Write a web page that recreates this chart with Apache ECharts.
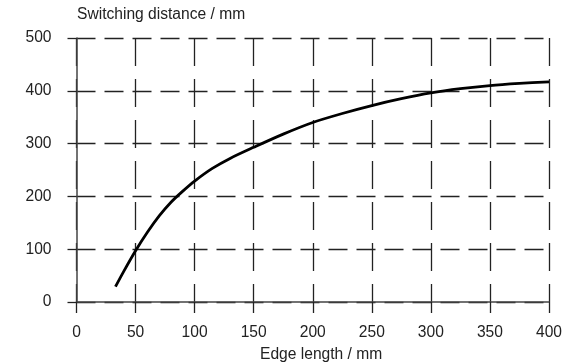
<!DOCTYPE html>
<html>
<head>
<meta charset="utf-8">
<script src="https://cdn.jsdelivr.net/npm/echarts@6/dist/echarts.min.js"></script>
<style>html,body{margin:0;padding:0;background:#fff}#c{width:569px;height:364px}</style>
</head>
<body>
<div id="c"></div>
<script>
const edgeLength = [33, 40, 50, 60, 70, 80, 90, 100, 115, 130, 150, 175, 200, 225, 250, 275, 300, 325, 350, 375, 400];
const switchingDistance = [29, 58, 97, 132, 163, 189, 210, 229, 253, 272, 293, 318, 340, 357, 372, 385, 396, 404, 410, 414, 417];
const xTicks = [0, 50, 100, 150, 200, 250, 300, 350, 400];
const yTicks = [0, 100, 200, 300, 400, 500];
const xTitle = 'Edge length / mm';
const yTitle = 'Switching distance / mm';

const chart = echarts.init(document.getElementById('c'), null, {renderer: 'canvas'});
const font = 'Liberation Sans, Arial, Helvetica, sans-serif';
const fs = 15.6;
chart.setOption({
  animation: false,
  backgroundColor: '#fff',
  grid: {left: 76.5, right: 20, top: 38, bottom: 62, containLabel: false},
  xAxis: {
    type: 'value', min: xTicks[0], max: xTicks[xTicks.length - 1], interval: 50,
    axisLine: {show: true, onZero: false, lineStyle: {color: '#444', width: 1.5}},
    axisTick: {show: true, inside: false, length: 11, lineStyle: {color: '#222', width: 1.3}},
    axisLabel: {margin: 23, fontSize: fs, color: '#222', fontFamily: font},
    splitLine: {show: true, lineStyle: {color: '#222', width: 1.3, type: [28, 13]}}
  },
  yAxis: {
    type: 'value', min: yTicks[0], max: yTicks[yTicks.length - 1], interval: 100,
    axisLine: {show: true, onZero: false, lineStyle: {color: '#444', width: 1.5}},
    axisTick: {show: true, inside: false, length: 9, lineStyle: {color: '#222', width: 1.3}},
    axisLabel: {margin: 25, fontSize: fs, color: '#222', fontFamily: font},
    splitLine: {show: true, lineStyle: {color: '#222', width: 1.3, type: [19, 9]}}
  },
  graphic: [
    {type: 'text', x: 77, y: 15, style: {text: yTitle, fontSize: fs, fill: '#222', fontFamily: font, verticalAlign: 'middle'}},
    {type: 'text', x: 260, y: 354.5, style: {text: xTitle, fontSize: fs, fill: '#222', fontFamily: font, verticalAlign: 'middle'}}
  ],
  series: [{
    type: 'line', smooth: 0.3, showSymbol: false,
    data: edgeLength.map((x, i) => [x, switchingDistance[i]]),
    lineStyle: {color: '#000', width: 2.8},
    z: 5
  }]
});
</script>
</body>
</html>
